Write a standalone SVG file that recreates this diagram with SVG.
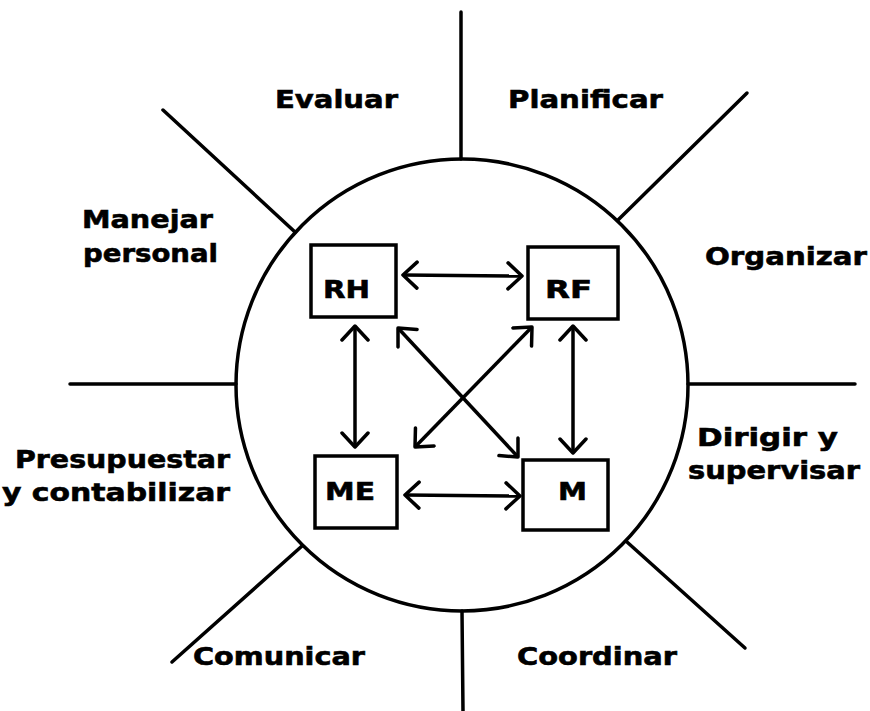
<svg xmlns="http://www.w3.org/2000/svg" width="870" height="711" viewBox="0 0 870 711">
<style>
.ln{stroke:#000;stroke-width:3.5;fill:none;stroke-linecap:round}
.box{stroke:#000;stroke-width:3.5;fill:#fff}
.lbl{font-family:"DejaVu Sans",sans-serif;font-weight:bold;font-size:25px;fill:#000;stroke:#000;stroke-width:0.6}
.arr{stroke:#000;stroke-width:3.5;fill:none;marker-start:url(#ah);marker-end:url(#ah)}
</style>
<defs>
<marker id="ah" markerUnits="userSpaceOnUse" markerWidth="20" markerHeight="30" viewBox="0 0 20 30" refX="17" refY="15" orient="auto-start-reverse">
<path d="M3,2 L17,15 L3,28" fill="none" stroke="#000" stroke-width="3.5" stroke-linecap="round" stroke-linejoin="round"/>
</marker>
</defs>
<rect width="870" height="711" fill="#fff"/>
<g id="frame">
<circle class="ln" cx="462" cy="385" r="226"/>
<line class="ln" x1="461" y1="12" x2="461" y2="159"/>
<line class="ln" x1="462" y1="611" x2="463" y2="711"/>
<line class="ln" x1="70" y1="384" x2="236" y2="384"/>
<line class="ln" x1="688" y1="384" x2="855" y2="384"/>
<line class="ln" x1="163" y1="110" x2="295" y2="232"/>
<line class="ln" x1="747" y1="93" x2="618" y2="220"/>
<line class="ln" x1="172" y1="662" x2="302" y2="546"/>
<line class="ln" x1="627" y1="542" x2="745" y2="648"/>
</g>
<g id="labels">
<text class="lbl" x="275" y="108" textLength="123" lengthAdjust="spacingAndGlyphs">Evaluar</text>
<text class="lbl" x="508" y="108" textLength="155" lengthAdjust="spacingAndGlyphs">Planificar</text>
<text class="lbl" x="82" y="228" textLength="131" lengthAdjust="spacingAndGlyphs">Manejar</text>
<text class="lbl" x="83" y="262" textLength="135" lengthAdjust="spacingAndGlyphs">personal</text>
<text class="lbl" x="705" y="265" textLength="162" lengthAdjust="spacingAndGlyphs">Organizar</text>
<text class="lbl" x="697" y="446" textLength="141" lengthAdjust="spacingAndGlyphs">Dirigir y</text>
<text class="lbl" x="688" y="479" textLength="172" lengthAdjust="spacingAndGlyphs">supervisar</text>
<text class="lbl" x="15" y="468" textLength="215" lengthAdjust="spacingAndGlyphs">Presupuestar</text>
<text class="lbl" x="2" y="501" textLength="228" lengthAdjust="spacingAndGlyphs">y contabilizar</text>
<text class="lbl" x="193" y="665" textLength="172" lengthAdjust="spacingAndGlyphs">Comunicar</text>
<text class="lbl" x="517" y="665" textLength="160" lengthAdjust="spacingAndGlyphs">Coordinar</text>
</g>
<g id="node-RH">
<rect class="box" x="311" y="245" width="85" height="72"/>
<text class="lbl" x="323" y="298" textLength="47" lengthAdjust="spacingAndGlyphs">RH</text>
</g>
<g id="node-RF">
<rect class="box" x="528" y="247" width="90" height="72"/>
<text class="lbl" x="545" y="298" textLength="47" lengthAdjust="spacingAndGlyphs">RF</text>
</g>
<g id="node-ME">
<rect class="box" x="315" y="456" width="82" height="72"/>
<text class="lbl" x="325" y="500" textLength="50" lengthAdjust="spacingAndGlyphs">ME</text>
</g>
<g id="node-M">
<rect class="box" x="523" y="460" width="85" height="70"/>
<text class="lbl" x="558" y="500" textLength="29" lengthAdjust="spacingAndGlyphs">M</text>
</g>
<g id="connectors">
<line class="arr" x1="403" y1="275" x2="522" y2="276"/>
<line class="arr" x1="355" y1="326" x2="355" y2="447"/>
<line class="arr" x1="573" y1="326" x2="573" y2="453"/>
<line class="arr" x1="405" y1="495" x2="520" y2="496"/>
<line class="arr" x1="398" y1="328" x2="518" y2="457"/>
<line class="arr" x1="532" y1="327" x2="415" y2="447"/>
</g>
</svg>
